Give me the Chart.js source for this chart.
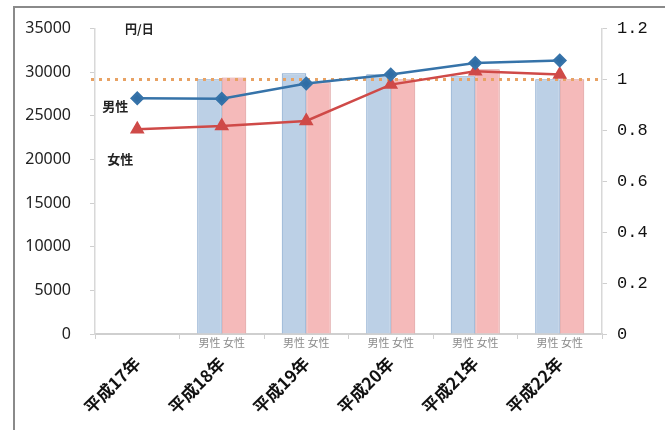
<!DOCTYPE html>
<html>
<head>
<meta charset="utf-8">
<script src="https://cdn.jsdelivr.net/npm/chart.js@4/dist/chart.umd.min.js"></script>
<style>
  html, body { margin: 0; padding: 0; background: #fff; }
  #wrap { width: 665px; height: 430px; position: relative; }
</style>
</head>
<body>
<div id="wrap"><canvas id="c" width="665" height="430"></canvas></div>
<script>
// ---- data ----
const categories = ['平成17年', '平成18年', '平成19年', '平成20年', '平成21年', '平成22年'];
const maleWage   = [null, 29200, 29870, 29760, 29530, 29190];   // 円/日 (left axis)
const femaleWage = [null, 29400, 28840, 29190, 30330, 29190];   // 円/日 (left axis)
const maleRatio   = [0.926, 0.924, 0.984, 1.02, 1.065, 1.075];  // right axis
const femaleRatio = [0.805, 0.817, 0.837, 0.98, 1.032, 1.02];   // right axis
const referenceLine = [1.0];                                    // dotted reference (right axis)
const leftTicks  = { min: 0, max: 35000, step: 5000 };
const rightTicks = { min: 0, max: 1.2, step: 0.2 };
const subLabels = ['男性', '女性'];
const unitLabel = '円/日';
const seriesNames = ['男性', '女性'];

const CJK = '"Noto Sans CJK JP", "Noto Sans", sans-serif';

const decorPlugin = {
  id: 'decor',
  beforeDraw(chart) {
    const ctx = chart.ctx;
    ctx.save();
    ctx.strokeStyle = '#8a8a8a';
    ctx.lineWidth = 2;
    ctx.beginPath();
    ctx.moveTo(14, 430);
    ctx.lineTo(14, 7);
    ctx.lineTo(665, 7);
    ctx.stroke();
    ctx.restore();
  },
  beforeDatasetsDraw(chart) { chart.$refDrawn = false; },
  beforeDatasetDraw(chart, args) {
    if (chart.$refDrawn || args.meta.type !== 'line') return;
    chart.$refDrawn = true;
    const ctx = chart.ctx, area = chart.chartArea;
    const y = chart.scales.y1.getPixelForValue(referenceLine[0]);
    ctx.save();
    ctx.strokeStyle = '#e8a264';
    ctx.lineWidth = 3;
    ctx.setLineDash([3, 5]);
    ctx.beginPath();
    ctx.moveTo(area.left - 4, y);
    ctx.lineTo(area.right - 2, y);
    ctx.stroke();
    ctx.restore();
  },
  afterDatasetsDraw(chart) {
    const ctx = chart.ctx;
    const xs = chart.scales.x;
    ctx.save();
    ctx.font = '11px ' + CJK;
    ctx.fillStyle = '#8c8c8c';
    ctx.textAlign = 'center';
    ctx.textBaseline = 'middle';
    [0, 1].forEach(di => {
      const meta = chart.getDatasetMeta(di);
      const data = chart.data.datasets[di].data;
      meta.data.forEach((el, i) => {
        if (data[i] == null) return;
        ctx.fillText(subLabels[di], el.x, xs.top + 9);
      });
    });
    // unit label
    ctx.font = 'bold 12px ' + CJK;
    ctx.fillStyle = '#222';
    ctx.textAlign = 'left';
    ctx.fillText(unitLabel, chart.chartArea.left + 30, chart.chartArea.top + 1);
    // series annotations near first points
    ctx.font = 'bold 13px ' + CJK;
    ctx.textAlign = 'center';
    const m = chart.getDatasetMeta(2).data[0];
    const f = chart.getDatasetMeta(3).data[0];
    ctx.fillText(seriesNames[0], m.x - 22, m.y + 8);
    ctx.fillText(seriesNames[1], f.x - 17, f.y + 30);
    ctx.restore();
  }
};

new Chart(document.getElementById('c'), {
  type: 'bar',
  data: {
    labels: categories,
    datasets: [
      {
        type: 'bar', label: '男性', data: maleWage, yAxisID: 'y', order: 2,
        backgroundColor: '#bcd0e6', borderColor: '#7a9fca', borderWidth: 1,
        categoryPercentage: 0.58, barPercentage: 1.0
      },
      {
        type: 'bar', label: '女性', data: femaleWage, yAxisID: 'y', order: 2,
        backgroundColor: '#f5baba', borderColor: '#d99494', borderWidth: 1,
        categoryPercentage: 0.58, barPercentage: 1.0
      },
      {
        type: 'line', label: '男性比', data: maleRatio, yAxisID: 'y1', order: 0,
        borderColor: '#3673a9', backgroundColor: '#2f6da5', borderWidth: 2.5,
        pointStyle: 'rectRot', pointRadius: 5.5, tension: 0
      },
      {
        type: 'line', label: '女性比', data: femaleRatio, yAxisID: 'y1', order: 1,
        borderColor: '#cf4a48', backgroundColor: '#cf4a48', borderWidth: 2.5,
        pointStyle: 'triangle', pointRadius: 6, tension: 0
      }
    ]
  },
  options: {
    responsive: false,
    animation: false,
    layout: { padding: { left: 0, right: 0, top: 27, bottom: 0 } },
    plugins: { legend: { display: false }, tooltip: { enabled: false } },
    scales: {
      x: {
        afterFit(s) { s.height = 96; },
        grid: { drawOnChartArea: false, tickLength: 5, color: '#cfcfcf', offset: true },
        border: { color: '#cfcfcf', width: 2 },
        ticks: {
          font: { family: CJK, size: 17, weight: 'bold' }, color: '#111',
          minRotation: 45, maxRotation: 45, padding: 14, autoSkip: false
        }
      },
      y: {
        position: 'left',
        min: leftTicks.min, max: leftTicks.max,
        afterFit(s) { s.width = 95; },
        grid: { drawOnChartArea: false, tickLength: 5, color: '#cfcfcf' },
        border: { color: '#d8d8d8', width: 1.5 },
        ticks: {
          stepSize: leftTicks.step, font: { family: '"Noto Sans", sans-serif', size: 16 }, color: '#222', padding: 19,
          callback: v => String(v)
        }
      },
      y1: {
        position: 'right',
        min: rightTicks.min, max: rightTicks.max,
        afterFit(s) { s.width = 63; },
        grid: { drawOnChartArea: false, tickLength: 5, color: '#cfcfcf' },
        border: { color: '#d8d8d8', width: 1.5 },
        ticks: {
          stepSize: rightTicks.step, font: { family: '"Liberation Mono", monospace', size: 17 }, color: '#111', padding: 10,
          callback: v => String(Number(v.toFixed(1)))
        }
      }
    }
  },
  plugins: [decorPlugin]
});
</script>
</body>
</html>
